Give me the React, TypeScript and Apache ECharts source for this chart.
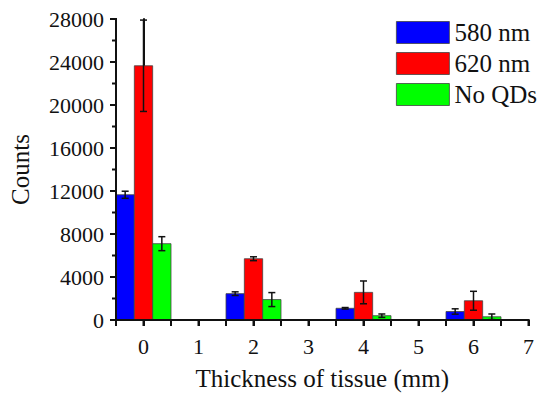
import React, { useEffect, useRef } from "react";
import * as echarts from "echarts";

const thickness = [0, 2, 4, 6];
const seriesNames = ["580 nm", "620 nm", "No QDs"];
const colors = ["#0000FF", "#FF0000", "#00FF00"];
const counts580 = [11650, 2450, 1090, 790];
const err580 = [330, 170, 70, 250];
const counts620 = [23650, 5700, 2570, 1790];
const err620 = [4250, 180, 1060, 880];
const countsNoQD = [7100, 1900, 400, 300];
const errNoQD = [650, 650, 160, 260];
const xTickValues = [-0.5, 0, 0.5, 1, 1.5, 2, 2.5, 3, 3.5, 4, 4.5, 5, 5.5, 6, 6.5, 7];
const yMajorTicks = [0, 4000, 8000, 12000, 16000, 20000, 24000, 28000];
const yMinorTicks = [2000, 6000, 10000, 14000, 18000, 22000, 26000];

const allCounts = [counts580, counts620, countsNoQD];
const allErr = [err580, err620, errNoQD];
const offsets = [-1 / 3, 0, 1 / 3];
const X_MIN = -0.5;
const X_MAX = 7;
const Y_MAX = 28000;

export default function App() {
  const ref = useRef<HTMLDivElement>(null);
  useEffect(() => {
    if (!ref.current) return;
    const chart = echarts.init(ref.current, undefined, { renderer: "svg" });
    const font = "Liberation Serif";
    const barSeries = seriesNames.map((name, si) => ({
      name,
      type: "custom",
      data: thickness.map((t, i) => [t, allCounts[si][i], allErr[si][i]]),
      itemStyle: { color: colors[si], borderColor: "#444", borderWidth: 0.8 },
      encode: { x: 0, y: 1 },
      z: 2,
      renderItem: (params: any, api: any) => {
        const x = api.value(0) + offsets[si];
        const y = api.value(1);
        const e = api.value(2);
        const p0 = api.coord([x - 1 / 6, y]);
        const p1 = api.coord([x + 1 / 6, 0]);
        const top = api.coord([x, y + e]);
        const bot = api.coord([x, y - e]);
        const cap = 3.5;
        const lineStyle = { stroke: "#111", lineWidth: 1.5 };
        return {
          type: "group",
          children: [
            {
              type: "rect",
              shape: { x: p0[0], y: p0[1], width: p1[0] - p0[0], height: p1[1] - p0[1] },
              style: { fill: colors[si], stroke: "#444", lineWidth: 0.8 },
            },
            { type: "line", shape: { x1: top[0], y1: top[1], x2: bot[0], y2: bot[1] }, style: lineStyle },
            { type: "line", shape: { x1: top[0] - cap, y1: top[1], x2: top[0] + cap, y2: top[1] }, style: lineStyle },
            { type: "line", shape: { x1: bot[0] - cap, y1: bot[1], x2: bot[0] + cap, y2: bot[1] }, style: lineStyle },
          ],
        };
      },
    }));
    const axesSeries = {
      name: "axes",
      type: "custom",
      z: 5,
      data: [[1, 14000]],
      encode: { x: 0, y: 1 },
      itemStyle: { color: "#111" },
      renderItem: (params: any, api: any) => {
        const children: any[] = [];
        const lineStyle = { stroke: "#111", lineWidth: 2 };
        const o = api.coord([X_MIN, 0]);
        const xe = api.coord([X_MAX, 0]);
        const ye = api.coord([X_MIN, Y_MAX]);
        children.push({ type: "line", shape: { x1: o[0] - 1, y1: o[1], x2: xe[0] + 1, y2: xe[1] }, style: lineStyle });
        children.push({ type: "line", shape: { x1: o[0], y1: o[1] + 1, x2: ye[0], y2: ye[1] - 1 }, style: lineStyle });
        xTickValues.forEach((v) => {
          const p = api.coord([v, 0]);
          children.push({ type: "line", shape: { x1: p[0], y1: p[1], x2: p[0], y2: p[1] + 6 }, style: lineStyle });
        });
        yMajorTicks.forEach((v) => {
          const p = api.coord([X_MIN, v]);
          children.push({ type: "line", shape: { x1: p[0] - 6, y1: p[1], x2: p[0], y2: p[1] }, style: lineStyle });
        });
        yMinorTicks.forEach((v) => {
          const p = api.coord([X_MIN, v]);
          children.push({ type: "line", shape: { x1: p[0] - 4, y1: p[1], x2: p[0], y2: p[1] }, style: lineStyle });
        });
        return { type: "group", children };
      },
      markLine: {
        silent: true,
        symbol: "none",
        label: { show: false },
        lineStyle: { color: "#111", width: 2, type: "solid" },
        data: [{ yAxis: 0 }, { xAxis: X_MIN }],
      },
    };
    chart.setOption({
      animation: false,
      textStyle: { fontFamily: font },
      grid: { left: 115, top: 19, right: 2, bottom: 69 },
      legend: {
        orient: "vertical",
        left: 391,
        top: 15,
        itemWidth: 53,
        itemHeight: 22,
        itemGap: 6,
        icon: "rect",
        textStyle: { fontFamily: font, fontSize: 25, color: "#111" },
        data: seriesNames.map((n, i) => ({ name: n, itemStyle: { color: colors[i], borderColor: "#444", borderWidth: 0.8 } })),
      },
      xAxis: {
        type: "value",
        min: X_MIN,
        max: X_MAX,
        interval: 0.5,
        name: "Thickness of tissue (mm)",
        nameLocation: "middle",
        nameGap: 46,
        nameTextStyle: { fontFamily: font, fontSize: 25, color: "#111" },
        axisLine: { show: true, onZero: false, lineStyle: { color: "#111", width: 2 } },
        axisTick: { show: true, length: 6, lineStyle: { color: "#111", width: 2 } },
        axisLabel: {
          fontFamily: font,
          fontSize: 22,
          color: "#111",
          margin: 15,
          formatter: (v: number) => (Math.abs(v - Math.round(v)) < 1e-9 ? String(Math.round(v)) : ""),
        },
        splitLine: { show: false },
      },
      yAxis: {
        type: "value",
        min: 0,
        max: Y_MAX,
        interval: 2000,
        name: "Counts",
        nameLocation: "middle",
        nameGap: 83,
        nameTextStyle: { fontFamily: font, fontSize: 25, color: "#111" },
        axisLine: { show: true, lineStyle: { color: "#111", width: 2 } },
        axisTick: { show: false },
        axisLabel: {
          fontFamily: font,
          fontSize: 22,
          color: "#111",
          margin: 12,
          formatter: (v: number) => (v % 4000 === 0 ? String(v) : ""),
        },
        splitLine: { show: false },
      },
      series: [...barSeries, axesSeries],
    });
    return () => chart.dispose();
  }, []);
  return <div ref={ref} style={{ width: 537, height: 396, position: "absolute", left: 0, top: 0 }} />;
}
